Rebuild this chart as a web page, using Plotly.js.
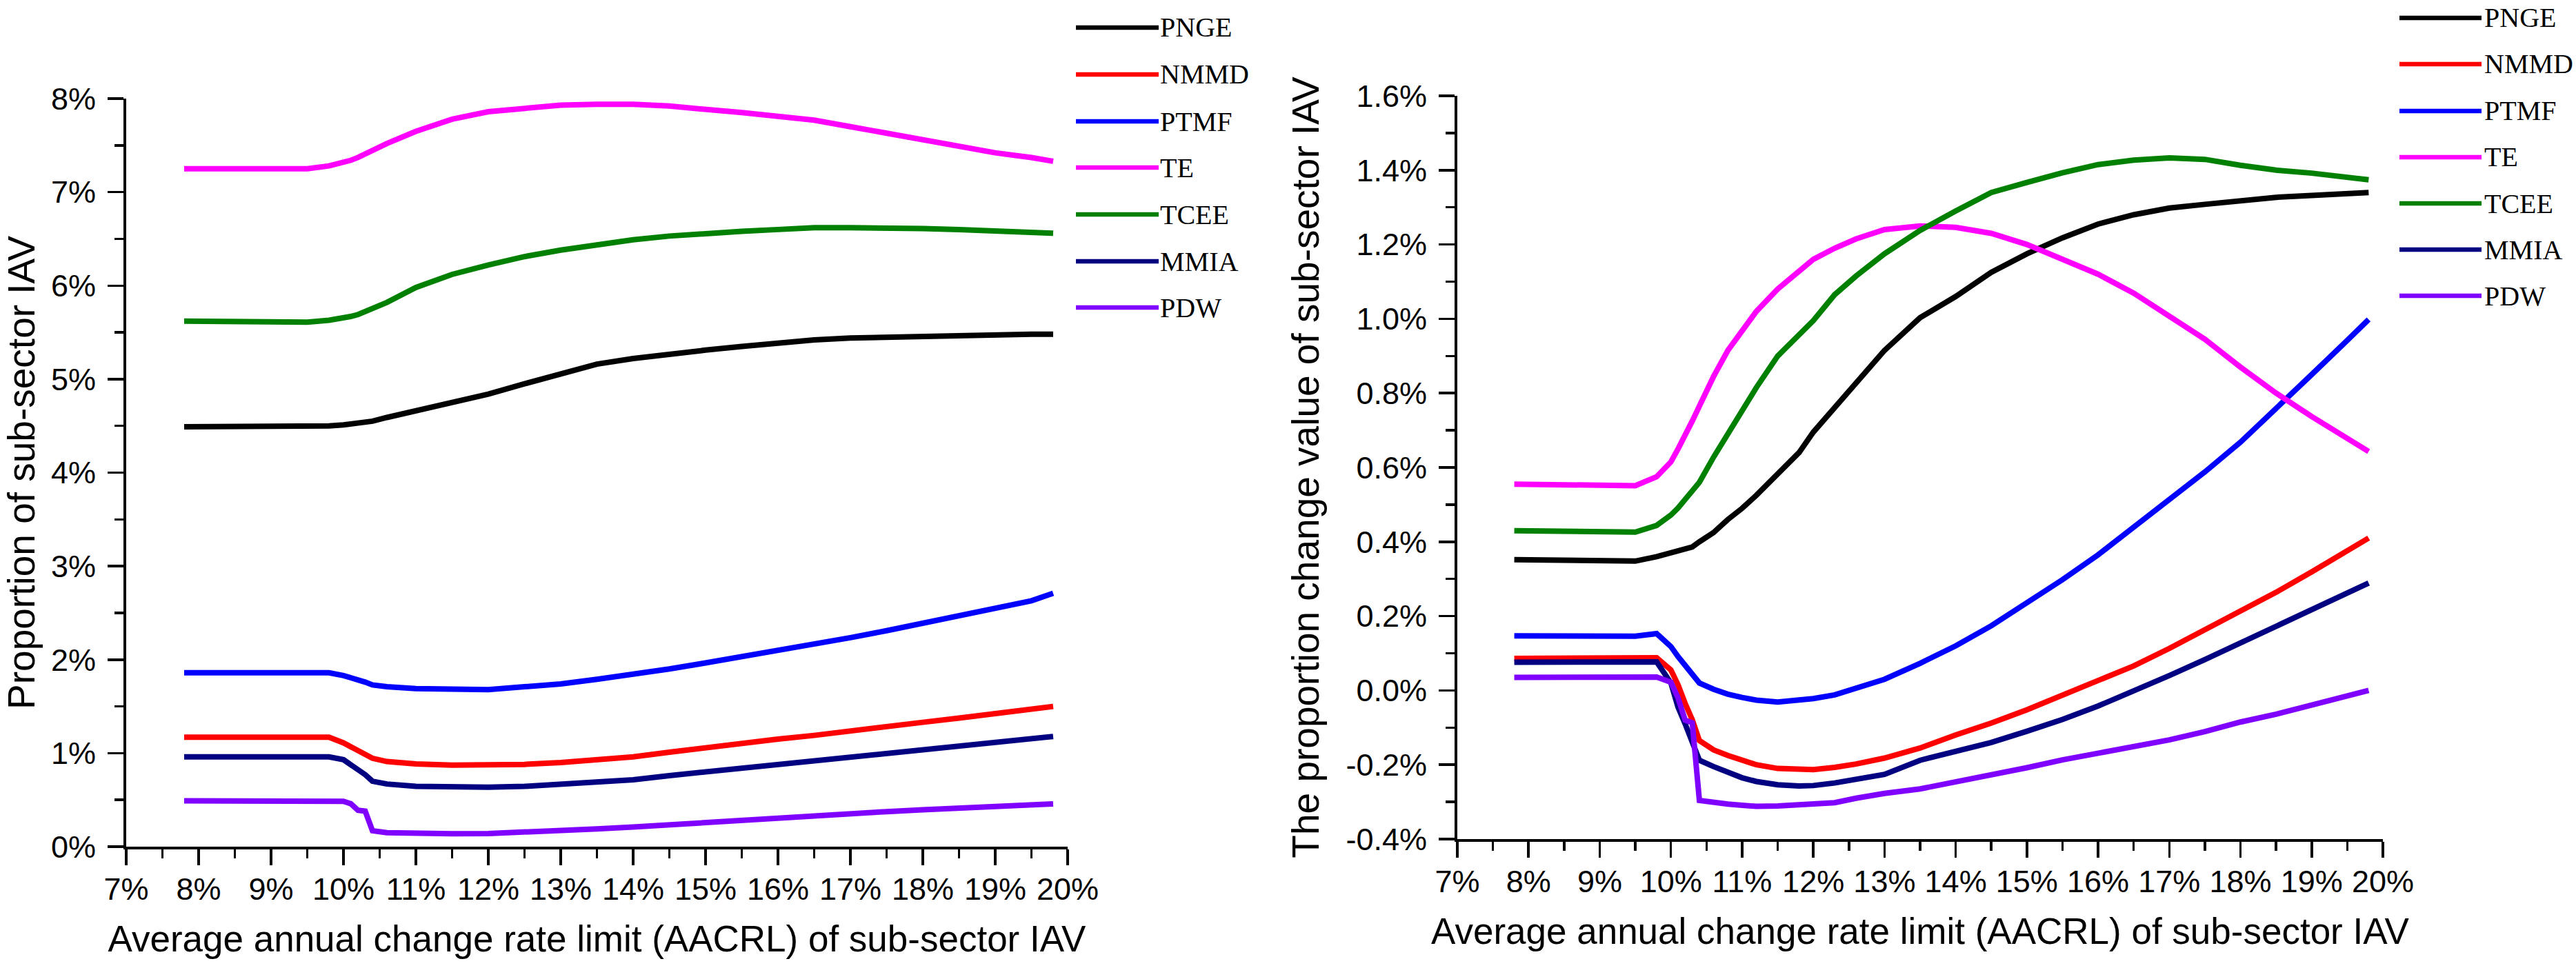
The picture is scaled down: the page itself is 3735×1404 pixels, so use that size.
<!DOCTYPE html>
<html>
<head>
<meta charset="utf-8">
<script src="https://cdn.plot.ly/plotly-3.0.1.min.js"></script>
<style>
  html, body { margin: 0; padding: 0; background: #ffffff; }
  #chart { width: 3735px; height: 1404px; }
</style>
</head>
<body>
<div id="chart"></div>
<script>
// ---------------- DATA ----------------
const seriesNames  = ['PNGE', 'NMMD', 'PTMF', 'TE', 'TCEE', 'MMIA', 'PDW'];
const seriesColors = ['#000000', '#FF0000', '#0000FF', '#FF00FF', '#008000', '#000080', '#8000FF'];

// Left panel: proportion of sub-sector IAV (%)
const xLeft = [7.8, 8.5, 9.0, 9.5, 9.8, 10.0, 10.1, 10.2, 10.3, 10.4, 10.6, 11.0, 11.5, 12.0, 12.5,
               13.0, 13.5, 14.0, 14.5, 15.0, 15.5, 16.0, 16.5, 17.0, 17.5, 18.0, 18.5, 19.0, 19.5, 19.8];
const leftPNGE = [4.49, 4.49, 4.49, 4.49, 4.50, 4.51, 4.52, 4.53, 4.54, 4.55, 4.59, 4.66, 4.75, 4.84, 4.95,
                  5.06, 5.16, 5.22, 5.27, 5.31, 5.35, 5.39, 5.42, 5.44, 5.45, 5.46, 5.46, 5.47, 5.48, 5.48];
const leftNMMD = [1.17, 1.17, 1.17, 1.17, 1.17, 1.11, 1.07, 1.03, 0.99, 0.945, 0.91, 0.885, 0.872, 0.87, 0.88,
                  0.90, 0.93, 0.96, 1.01, 1.06, 1.10, 1.15, 1.19, 1.24, 1.285, 1.33, 1.375, 1.42, 1.47, 1.50];
const leftPTMF = [1.86, 1.86, 1.86, 1.86, 1.86, 1.83, 1.81, 1.78, 1.76, 1.73, 1.71, 1.69, 1.68, 1.68, 1.71,
                  1.74, 1.79, 1.84, 1.90, 1.965, 2.03, 2.095, 2.165, 2.235, 2.31, 2.39, 2.46, 2.54, 2.63, 2.71];
const leftTE   = [7.25, 7.25, 7.25, 7.25, 7.28, 7.31, 7.34, 7.37, 7.41, 7.44, 7.52, 7.65, 7.78, 7.86, 7.90,
                  7.93, 7.94, 7.94, 7.92, 7.89, 7.85, 7.81, 7.77, 7.70, 7.63, 7.55, 7.48, 7.42, 7.37, 7.33];
const leftTCEE = [5.62, 5.62, 5.61, 5.61, 5.63, 5.65, 5.67, 5.69, 5.72, 5.75, 5.82, 5.98, 6.12, 6.22, 6.31,
                  6.38, 6.44, 6.49, 6.53, 6.56, 6.58, 6.60, 6.62, 6.62, 6.62, 6.61, 6.60, 6.59, 6.57, 6.56];
const leftMMIA = [0.96, 0.96, 0.96, 0.96, 0.96, 0.93, 0.88, 0.82, 0.77, 0.70, 0.67, 0.645, 0.636, 0.636, 0.645,
                  0.665, 0.685, 0.715, 0.76, 0.80, 0.84, 0.88, 0.915, 0.955, 0.995, 1.035, 1.075, 1.115, 1.155, 1.178];
const leftPDW  = [0.49, 0.49, 0.49, 0.49, 0.49, 0.485, 0.46, 0.39, 0.38, 0.17, 0.15, 0.14, 0.138, 0.14, 0.152,
                  0.17, 0.19, 0.21, 0.235, 0.26, 0.285, 0.31, 0.33, 0.355, 0.375, 0.395, 0.415, 0.435, 0.45, 0.457];

// Right panel: proportion change value of sub-sector IAV (%)
const xRight = [7.8, 8.5, 9.0, 9.5, 9.8, 10.0, 10.1, 10.2, 10.3, 10.4, 10.6, 10.8, 11.0, 11.2, 11.5, 11.8, 12.0,
                12.3, 12.6, 13.0, 13.5, 14.0, 14.5, 15.0, 15.5, 16.0, 16.5, 17.0, 17.5, 18.0, 18.5, 19.0, 19.5, 19.8];
const rightPNGE = [0.352, 0.350, 0.348, 0.348, 0.360, 0.370, 0.375, 0.380, 0.386, 0.400, 0.425, 0.460, 0.490, 0.525, 0.585, 0.640, 0.695,
                   0.760, 0.825, 0.915, 1.003, 1.060, 1.125, 1.175, 1.218, 1.255, 1.280, 1.298, 1.308, 1.318, 1.327, 1.332, 1.337, 1.340];
const rightNMMD = [0.086, 0.086, 0.086, 0.086, 0.088, 0.055, 0.015, -0.035, -0.079, -0.135, -0.160, -0.175, -0.188, -0.200, -0.210, -0.214, -0.213,
                   -0.207, -0.198, -0.182, -0.155, -0.120, -0.088, -0.052, -0.013, 0.026, 0.066, 0.113, 0.162, 0.213, 0.264, 0.319, 0.374, 0.410];
const rightPTMF = [0.147, 0.147, 0.146, 0.146, 0.153, 0.118, 0.091, 0.067, 0.043, 0.020, 0.003, -0.010, -0.019, -0.026, -0.031, -0.027, -0.022,
                   -0.012, 0.006, 0.030, 0.073, 0.120, 0.174, 0.236, 0.298, 0.365, 0.438, 0.513, 0.588, 0.668, 0.757, 0.850, 0.942, 0.998];
const rightTE   = [0.555, 0.553, 0.551, 0.551, 0.575, 0.615, 0.650, 0.685, 0.725, 0.765, 0.845, 0.915, 0.967, 1.020, 1.080, 1.130, 1.160,
                   1.190, 1.215, 1.240, 1.250, 1.246, 1.230, 1.200, 1.160, 1.120, 1.069, 1.008, 0.945, 0.870, 0.800, 0.737, 0.680, 0.643];
const rightTCEE = [0.430, 0.428, 0.426, 0.426, 0.444, 0.472, 0.491, 0.513, 0.536, 0.560, 0.628, 0.690, 0.750, 0.815, 0.900, 0.960, 0.995,
                   1.065, 1.115, 1.175, 1.238, 1.290, 1.340, 1.367, 1.393, 1.415, 1.427, 1.433, 1.429, 1.413, 1.400, 1.392, 1.382, 1.374];
const rightMMIA = [0.076, 0.076, 0.076, 0.076, 0.077, 0.020, -0.045, -0.090, -0.135, -0.188, -0.205, -0.220, -0.235, -0.245, -0.254, -0.257, -0.256,
                   -0.249, -0.240, -0.226, -0.188, -0.165, -0.140, -0.110, -0.078, -0.042, -0.002, 0.040, 0.083, 0.128, 0.174, 0.218, 0.260, 0.289];
const rightPDW  = [0.035, 0.035, 0.035, 0.035, 0.036, 0.022, -0.020, -0.080, -0.087, -0.296, -0.302, -0.306, -0.309, -0.312, -0.311, -0.309, -0.306,
                   -0.302, -0.290, -0.277, -0.265, -0.247, -0.229, -0.208, -0.187, -0.169, -0.151, -0.133, -0.111, -0.085, -0.064, -0.040, -0.017, 0.000];

// Tick labels
const xTickVals = [7, 8, 9, 10, 11, 12, 13, 14, 15, 16, 17, 18, 19, 20];
const xTickText = ['7%', '8%', '9%', '10%', '11%', '12%', '13%', '14%', '15%', '16%', '17%', '18%', '19%', '20%'];
const leftYTickVals = [0, 1, 2, 3, 4, 5, 6, 7, 8];
const leftYTickText = ['0%', '1%', '2%', '3%', '4%', '5%', '6%', '7%', '8%'];
const rightYTickVals = [-0.4, -0.2, 0.0, 0.2, 0.4, 0.6, 0.8, 1.0, 1.2, 1.4, 1.6];
const rightYTickText = ['-0.4%', '-0.2%', '0.0%', '0.2%', '0.4%', '0.6%', '0.8%', '1.0%', '1.2%', '1.4%', '1.6%'];

const xTitleText = 'Average annual change rate limit (AACRL) of sub-sector IAV';
const leftYTitleText = 'Proportion of sub-sector IAV';
const rightYTitleText = 'The proportion change value of sub-sector IAV';

// ---------------- BUILD ----------------
const W = 3735, H = 1404;
const leftSeries  = [leftPNGE, leftNMMD, leftPTMF, leftTE, leftTCEE, leftMMIA, leftPDW];
const rightSeries = [rightPNGE, rightNMMD, rightPTMF, rightTE, rightTCEE, rightMMIA, rightPDW];
const LW = 8;

const traces = [];
seriesNames.forEach((name, i) => {
  traces.push({ type: 'scatter', mode: 'lines', name: name, x: xLeft, y: leftSeries[i],
    xaxis: 'x', yaxis: 'y', showlegend: false, hoverinfo: 'skip',
    line: { color: seriesColors[i], width: LW } });
});
seriesNames.forEach((name, i) => {
  traces.push({ type: 'scatter', mode: 'lines', name: name, x: xRight, y: rightSeries[i],
    xaxis: 'x2', yaxis: 'y2', showlegend: false, hoverinfo: 'skip',
    line: { color: seriesColors[i], width: LW } });
});

const tickFont = { family: 'Liberation Sans, Arial, sans-serif', size: 45, color: '#000' };
const titleFontX = { family: 'Liberation Sans, Arial, sans-serif', size: 53, color: '#000' };
const titleFontY = { family: 'Liberation Sans, Arial, sans-serif', size: 55, color: '#000' };

function xAxis(domain, anchor) {
  return {
    domain: domain, anchor: anchor, range: [7, 20], fixedrange: true,
    tickmode: 'array', tickvals: xTickVals, ticktext: xTickText,
    ticks: 'outside', ticklen: 23, tickwidth: 3.5, tickcolor: '#000',
    minor: { tick0: 7.5, dtick: 1, ticks: 'outside', ticklen: 13, tickwidth: 3.5, tickcolor: '#000', showgrid: false },
    showline: true, linewidth: 4, linecolor: '#000', mirror: false,
    showgrid: false, zeroline: false, tickfont: tickFont, ticklabelstandoff: -4,
    title: { text: xTitleText, font: titleFontX, standoff: 30 }
  };
}
function yAxis(domain, anchor, range, vals, text, minorStart, minorStep, title) {
  return {
    domain: domain, anchor: anchor, range: range, fixedrange: true,
    tickmode: 'array', tickvals: vals, ticktext: text,
    ticks: 'outside', ticklen: 23, tickwidth: 3.5, tickcolor: '#000',
    minor: { tick0: minorStart, dtick: minorStep, ticks: 'outside', ticklen: 13, tickwidth: 3.5, tickcolor: '#000', showgrid: false },
    showline: true, linewidth: 4, linecolor: '#000', mirror: false,
    showgrid: false, zeroline: false, tickfont: tickFont, ticklabelstandoff: 8,
    title: { text: title, font: titleFontY, standoff: 22 }
  };
}

const layout = {
  width: W, height: H,
  margin: { l: 0, r: 0, t: 0, b: 0 },
  paper_bgcolor: '#ffffff', plot_bgcolor: '#ffffff',
  showlegend: false,
  xaxis:  xAxis([183 / W, 1548 / W], 'y'),
  yaxis:  yAxis([1 - 1228 / H, 1 - 143 / H], 'x', [0, 8], leftYTickVals, leftYTickText, 0.5, 1, leftYTitleText),
  xaxis2: xAxis([2113 / W, 3455 / W], 'y2'),
  yaxis2: yAxis([1 - 1217 / H, 1 - 139 / H], 'x2', [-0.4, 1.6], rightYTickVals, rightYTickText, -0.4, 0.1, rightYTitleText),
  shapes: [], annotations: []
};

// Manual legends (one per panel)
const legendRowsLeft  = [40, 108, 176, 243, 311, 379, 446];
const legendRowsRight = [26, 93, 161, 228, 295, 362, 429];
function addLegend(rows, x0, x1, xt) {
  seriesNames.forEach((name, i) => {
    const yp = 1 - rows[i] / H;
    layout.shapes.push({ type: 'line', xref: 'paper', yref: 'paper', x0: x0 / W, x1: x1 / W, y0: yp, y1: yp,
      line: { color: seriesColors[i], width: 6.5 } });
    layout.annotations.push({ xref: 'paper', yref: 'paper', x: xt / W, y: yp, xanchor: 'left', yanchor: 'middle',
      text: name, showarrow: false, font: { family: 'Liberation Serif, Times New Roman, serif', size: 40, color: '#000' } });
  });
}
addLegend(legendRowsLeft, 1560, 1680, 1680);
addLegend(legendRowsRight, 3479, 3598, 3600);

Plotly.newPlot('chart', traces, layout, { staticPlot: true, displayModeBar: false });
</script>
</body>
</html>
